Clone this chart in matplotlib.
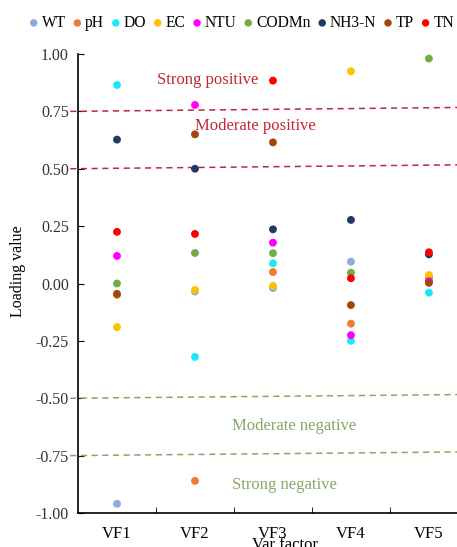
import matplotlib
matplotlib.use('Agg')
import matplotlib.pyplot as plt
import numpy as np

plt.rcParams['font.family'] = ['Liberation Serif', 'DejaVu Serif']

# loading values, one list per variable (VF1..VF5)
factors = ['VF1', 'VF2', 'VF3', 'VF4', 'VF5']
variables = ['WT', 'pH', 'DO', 'EC', 'NTU', 'CODMn', 'NH3-N', 'TP', 'TN']
WT    = [-0.96, -0.035, -0.02, 0.095, 0.02]
pH    = [-0.05, -0.86, 0.05, -0.175, 0.03]
DO    = [0.865, -0.32, 0.088, -0.25, -0.04]
EC    = [-0.19, -0.028, -0.01, 0.925, 0.037]
NTU   = [0.12, 0.778, 0.178, -0.225, 0.01]
CODMn = [0.0, 0.133, 0.132, 0.047, 0.98]
NH3N  = [0.627, 0.50, 0.236, 0.277, 0.127]
TP    = [-0.045, 0.65, 0.615, -0.094, 0.003]
TN    = [0.225, 0.216, 0.884, 0.023, 0.136]
series = [WT, pH, DO, EC, NTU, CODMn, NH3N, TP, TN]
colors = ['#8FAADC', '#ED7D31', '#1EE8F5', '#FFC000', '#FF00FF',
          '#70AD47', '#1F3864', '#9E480E', '#FF0000']

thresholds_pos = [0.75, 0.50]
thresholds_neg = [-0.50, -0.75]
RED = '#C0283A'
GREEN = '#86A766'

fig = plt.figure(figsize=(4.57, 5.47), dpi=100)
ax = fig.add_axes([78 / 457, 34 / 547, 1 - 78 / 457, 459 / 547])

x = np.arange(1, len(factors) + 1)
for name, vals, c in zip(variables, series, colors):
    ax.scatter(x, vals, s=32, color=c, edgecolor='none', zorder=3, label=name)

# threshold lines (slightly tilted like the hand-drawn originals)
xl, xr = 0.4, 5.36
for v in thresholds_pos:
    ax.plot([xl, xr], [v, v + 0.017], ls=(0, (4, 3)), lw=1.1, color=RED,
            clip_on=False, zorder=2)
for v in thresholds_neg:
    ax.plot([xl, xr], [v, v + 0.016], ls=(0, (4, 3)), lw=1.1, color=GREEN,
            clip_on=False, zorder=2)

ax.text(1.51, 0.885, 'Strong positive', color=RED, fontsize=12, va='center')
ax.text(2.0, 0.685, 'Moderate positive', color=RED, fontsize=12, va='center')
ax.text(2.48, -0.62, 'Moderate negative', color=GREEN, fontsize=12, va='center')
ax.text(2.48, -0.88, 'Strong negative', color=GREEN, fontsize=12, va='center')

ax.set_xlim(0.5, 5.36)
ax.set_ylim(-1, 1)
ax.set_yticks(np.arange(-1, 1.01, 0.25))
ax.set_yticklabels([f'{t:.2f}' for t in np.arange(-1, 1.01, 0.25)])
ax.set_xticks(x)
ax.set_xticklabels(factors)
ax.set_xticks([1.5, 2.5, 3.5, 4.5], minor=True)
ax.tick_params(axis='x', which='major', length=0, labelsize=12, pad=9)
ax.tick_params(axis='x', which='minor', direction='in', length=4)
ax.tick_params(axis='y', direction='in', length=4, labelsize=11.5, pad=6.5,
               labelcolor='#333333')
for s in ['top', 'right']:
    ax.spines[s].set_visible(False)
for s in ['left', 'bottom']:
    ax.spines[s].set_linewidth(1.2)

fig.text(285 / 457, 1 - 545 / 547, 'Var factor', ha='center', va='center',
         fontsize=12)
fig.text(18 / 457, 1 - 271 / 547, 'Loading value', rotation=90, ha='center',
         va='center', fontsize=11.5)

fig.legend(loc='center', bbox_to_anchor=(240 / 457, 1 - 23 / 547), ncol=9,
           frameon=False, fontsize=11.2, handletextpad=0.0,
           columnspacing=0.25, handlelength=1.0, markerscale=0.95,
           borderpad=0)

fig.savefig('out.png', dpi=100, facecolor='white')
